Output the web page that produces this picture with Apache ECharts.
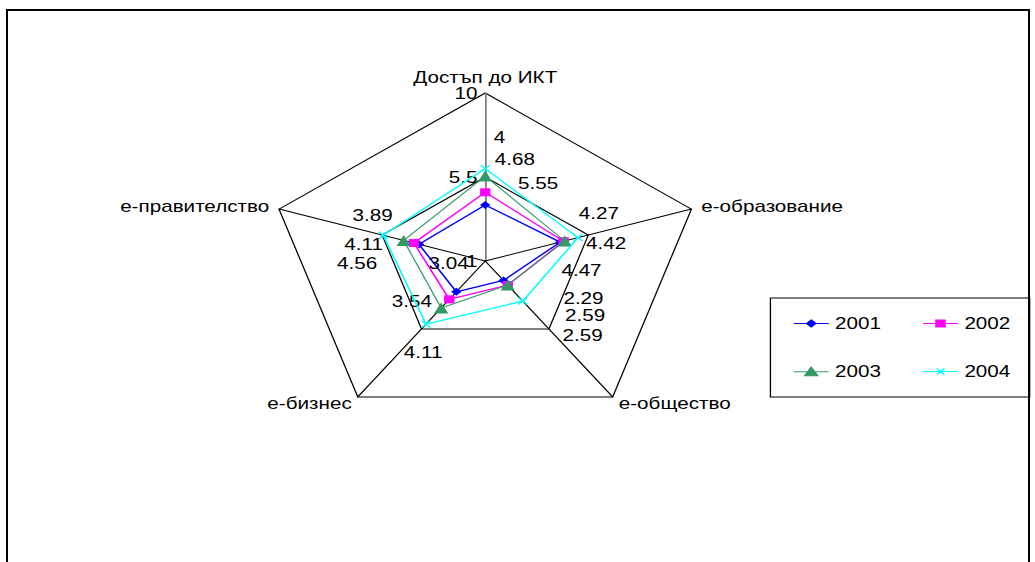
<!DOCTYPE html>
<html>
<head>
<meta charset="utf-8">
<script src="https://cdn.jsdelivr.net/npm/echarts@6/dist/echarts.min.js"></script>
<style>
  html, body { margin: 0; padding: 0; background: #fff; overflow: hidden; }
  #frame { position: absolute; left: 6px; top: 9px; width: 1020px; height: 620px; border: 2px solid #000; }
  /* the chart is laid out in a narrower box and widened horizontally */
  #chart { position: absolute; left: 0; top: 0; width: 802px; height: 562px; transform: scaleX(1.2905); transform-origin: 0 0; }
</style>
</head>
<body>
<div id="frame"></div>
<div id="chart"></div>
<script>
// Radar axes (clockwise from the top)
const CATEGORIES = ['Достъп до ИКТ', 'е-образование', 'е-общество', 'е-бизнес', 'е-правителство'];
const YEARS = ['2001', '2002', '2003', '2004'];

// Index values per year, in CATEGORIES order
const V2001 = [4, 4.27, 2.29, 3.04, 3.89];
const V2002 = [4.68, 4.42, 2.59, 3.54, 4.11];
const V2003 = [5.55, 4.47, 2.59, 4.11, 4.56];
const V2004 = [5.95, 5.05, 3.65, 5.18, 5.45];

const AXIS_MIN = 1;
const AXIS_MAX = 10;
const AXIS_SPLITS = 2;

const SERIES_VALUES = [V2001, V2002, V2003, V2004];

// ECharts walks the radar counter-clockwise; this order puts the axes clockwise
const ORDER = [0, 4, 3, 2, 1];

// Per-vertex placement of the value labels (dx, dy from the point), CATEGORIES order
const LABEL_SHIFT = {
  '2001': [[11, -68], [30, -29], [62, 18], [-6, -28], [-36, -29]],
  '2002': [[23, -33], [33, 2], [60, 30], [-29, 2], [-39, 1]],
  '2003': [[41, 7], [13, 29], [58, 50], [-14, 44], [-36, 23]]
};

const STYLE = {
  '2001': { color: '#0000ff', symbol: 'diamond', size: 8, width: 1.3 },
  '2002': { color: '#ff00ff', symbol: 'rect', size: 8, width: 1.3 },
  '2003': { color: '#339966', symbol: 'triangle', size: 11, width: 1 },
  '2004': { color: '#00ffff', symbol: 'path://M0,0 L10,10 M10,0 L0,10', size: 7, width: 1.3 }
};

const LEGEND_ICON = {
  '2001': 'path://M0,5 L27,5 M13.5,1.5 L17,5 L13.5,8.5 L10,5 Z',
  '2002': 'path://M0,5 L27,5 M10,1.5 L17,1.5 L17,8.5 L10,8.5 Z',
  '2003': 'path://M0,5 L27,5 M13.5,0.5 L18.5,9 L8.5,9 Z',
  '2004': 'path://M0,5 L27,5 M10.5,2 L16.5,8 M16.5,2 L10.5,8'
};

const FONT = "'Liberation Sans', Arial, sans-serif";

function reorder(arr) { return ORDER.map(i => arr[i]); }

function richFor(year) {
  const shifts = LABEL_SHIFT[year];
  const rich = {};
  ORDER.forEach((cat, dim) => {
    const [dx, dy] = shifts[cat];
    rich['p' + dim] = {
      fontSize: 16, fontFamily: FONT, color: '#000',
      padding: [Math.max(0, 2 * dy), Math.max(0, -2 * dx), Math.max(0, -2 * dy), Math.max(0, 2 * dx)]
    };
  });
  return rich;
}

const indicators = reorder(CATEGORIES).map((name, i) => {
  const ind = { name: name, min: AXIS_MIN, max: AXIS_MAX };
  if (i === 0) {
    ind.axisLine = { lineStyle: { color: '#808080', width: 1.4 } };
  } else {
    ind.axisLabel = { show: false };
  }
  return ind;
});

const series = YEARS.map((year, k) => {
  const st = STYLE[year];
  const hasLabels = !!LABEL_SHIFT[year];
  return {
    type: 'radar',
    name: year,
    symbol: st.symbol,
    symbolSize: st.size,
    lineStyle: { color: st.color, width: st.width },
    itemStyle: { color: st.color, borderColor: st.color, borderWidth: year === '2004' ? 1.3 : 0 },
    label: hasLabels ? {
      show: true,
      position: 'inside',
      formatter: p => '{p' + p.dimensionIndex + '|' + p.value + '}',
      rich: richFor(year)
    } : { show: false },
    emphasis: { disabled: true },
    z: 2 + k,
    data: [{ name: year, value: reorder(SERIES_VALUES[k]) }]
  };
});

const chart = echarts.init(document.getElementById('chart'), null, { renderer: 'svg' });
chart.setOption({
  animation: false,
  backgroundColor: 'transparent',
  textStyle: { fontFamily: FONT },
  radar: {
    center: [376, 261],
    radius: 168,
    startAngle: 90,
    shape: 'polygon',
    splitNumber: AXIS_SPLITS,
    indicator: indicators,
    axisName: { color: '#000', fontSize: 16, fontFamily: FONT },
    nameGap: 8,
    axisLine: { lineStyle: { color: '#000', width: 1 } },
    axisTick: { show: false },
    axisLabel: { show: true, color: '#000', fontSize: 16, fontFamily: FONT, margin: 6 },
    splitLine: { lineStyle: { color: '#000', width: 1 } },
    splitArea: { show: false }
  },
  legend: {
    left: 597,
    top: 298,
    width: 170,
    orient: 'horizontal',
    padding: [17.5, 15, 17.5, 17.5],
    itemGap: 32,
    itemWidth: 27,
    itemHeight: 10,
    borderColor: '#000',
    borderWidth: 1,
    borderRadius: 0,
    selectedMode: false,
    textStyle: { color: '#000', fontSize: 16, fontFamily: FONT, lineHeight: 10 },
    data: YEARS.map(y => ({
      name: y,
      icon: LEGEND_ICON[y],
      itemStyle: { color: STYLE[y].color, borderColor: STYLE[y].color, borderWidth: 1.2 }
    }))
  },
  series: series
});
</script>
</body>
</html>
